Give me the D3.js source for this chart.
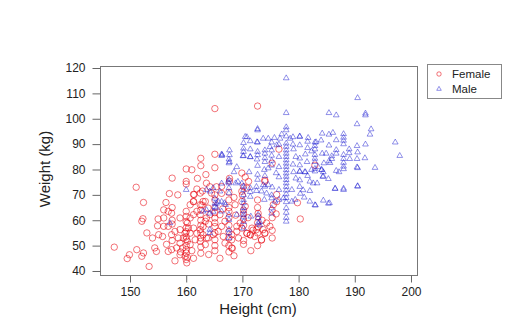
<!DOCTYPE html>
<html>
<head>
<meta charset="utf-8">
<script src="https://cdn.jsdelivr.net/npm/d3@7"></script>
<style>
  body { margin: 0; background: #fff; }
  svg { display: block; }
  text { font-family: "Liberation Sans", Arial, sans-serif; fill: #222; }
</style>
</head>
<body>
<svg id="chart" width="514" height="336"></svg>
<script>
// Axis ticks and series names
const xTicks = [150, 160, 170, 180, 190, 200];
const yTicks = [40, 50, 60, 70, 80, 90, 100, 110, 120];
const seriesNames = ["Female", "Male"];

// [height (cm), weight (kg)]
const female = [
  [165.1,104],[172.7,105],[165.1,86],[165.1,80.7],[162.6,84.4],[162.6,81.5],[160,80.2],[161,79.9],
  [157.5,76.6],[151.1,73],[160,75.3],[160,74.3],[182.9,81.7],[176.5,88],[175.3,82.5],
  [179.8,66.9],[180.3,60.5],[168.2,48.9],[174,75.8],
  [152.4,67],[152.3,60.6],[152.1,59.6],[156.4,67],[156,64.1],[156.8,63.5],[157.4,62.8],
  [154.9,57.8],[156,57.6],[155.1,54.3],[155.8,53.6],[157.4,54.3],
  [147.2,49.4],[149.9,46.4],[149.5,44.9],[151.2,48.4],[152.1,45.8],[152.4,47.1],[154.4,49.1],[154.7,47.7],
  [153.4,41.8],[156.8,47.7],[157.4,48.4],[158.3,49.1],[158.9,46.4],[159.8,45.8],[160.1,43.2],
  [161.4,70.1],[162.5,70.7],[163,67.4],[162.5,66.1],[161.9,63.5],[161.3,62.2],[162.5,62.2],[163.6,60.9],
  [160.2,58.9],[160.4,56.9],[159.8,54.9],[160.7,54.9],[159.5,53],[160.2,51.7],[160.7,50.4],[159.4,49.1],[160,48.4],
  [158.9,51],[158.6,53],[161.3,56.9],[161.9,54.9],[162.5,56.3],[163,54.3],[163.6,53],[162.5,51.7],[161.6,52.3],
  [158.9,56.3],[158,55.6],[156.8,57.6],[160,47.1],[160.2,45.4],[156,60.9],[158.9,60.9],[160,63.5],[160.7,60.9],
  [161.3,67.4],[160.7,66.1],
  [163.4,67.4],[163.9,64.8],[164.2,62.2],[163.4,59.6],[165.1,60.9],[166,62.2],[166.9,59.6],[166.3,57.6],[165.7,55.6],
  [164.8,54.3],[163.9,53],[163.4,50.4],[165.1,52.3],[166.6,53.6],[168.1,54.3],[169,55.6],[169.9,56.9],[170.8,54.9],
  [169.3,53],[168.1,52.3],[166.9,51],[169.6,58.9],[171.7,56.9],[172.5,56.3],[171.4,54.3],[172.2,53.6],[173.7,56.3],
  [174,55],[173.4,52.3],[174.9,57.6],[174.3,58.9],[168.1,49.1],[169,57.6],[170.5,65.5],[169.9,67.4],[168.7,66.1],
  [169.9,71.4],[170.8,72.7],[171.1,75.3],[169.9,78.6],[174,75.3],[166.3,73.3],[164.5,70.7],[163.6,74.6],[176.1,70.1],
  [175.5,66.1],
  [161.3,70.2],[161.9,72.3],[162.9,71.5],[164.2,73.2],[165.4,73.2],[166.3,70.6],[161.3,67.3],[162.8,66],
  [167.7,76.5],[167.7,75.4],[170.2,73.2],[170,69.9],[172.8,62.7],[172.8,61.4],[176.1,67.3],[173.4,52.2],
  [174,54.8],[172.8,57.4],[171.9,56.1],[171.4,54.2],[170.8,54.8],
  [160,50],[160,52.5],[160,55.5],[160,57],[160,59.5],[160,61.5],[160,44.5],[160,53.5],[159,47.5],[161,48],
  [161.3,45],[162.6,47],[162.6,49.5],[162.6,53],[162.6,55],[162.6,58],[162.6,60],[162.6,64],[165.1,48],[165.1,50],
  [165.1,55],[165.1,57.5],[165.1,59],[165.1,63],[165.1,65],[165.1,68],[165.1,70],[167.6,47.5],[167.6,50],[167.6,53],
  [167.6,55.5],[167.6,58],[167.6,61],[167.6,63.5],[167.6,65],[167.6,68],[167.6,71],[170.2,50.5],[170.2,52],[170.2,58],
  [170.2,60.5],[170.2,62.5],[170.2,64],[172.7,50],[172.7,55],[172.7,59],[172.7,65],[172.7,68],[175.3,53],[175.3,56],
  [175.3,61],[175.3,64],[168.5,46],[171.5,48],[164,46.5],[166,45],[157.5,58.5],[157.5,60],[157.5,65],[157.5,52],
  [155,60.5],[153,55],[154,53],[156.5,50.5],[158,44],[163,57.5],[164,58.5],[166.5,64.5],[168.8,62],[171,61],
  [173.5,60],[176,62.5],[162,76.5],[163.5,78],[158.5,70],[157,70.5],[168.5,69],[170.5,77]
];

const male = [
  [177.8,116],[190.5,108.2],[191.9,102.1],[191.9,101.4],[185.4,102.3],[186.7,101.4],[177.8,102.3],[190.4,97.9],
  [192.9,95.9],[192.7,93.8],[184.2,94.2],[185.4,93.8],[188,94],[188,92.6],[188,91.4],[188,90],[186.7,91.6],
  [190.4,89.3],[191.9,89.9],[197.2,90.7],[198,85.4],[193.6,80.7],[190.4,84.2],[190.4,80.9],[188,85.8],[188,84.2],
  [188,82.7],[188,81.2],[189.1,84.2],[186.7,87.7],[186.7,86.3],[185.4,83.3],[184.2,86.3],[184.9,86.3],[182.9,90.7],
  [182.9,89.3],[182.9,88],[182.9,85.8],[182.9,84.3],[182.9,83],[182.9,80.3],[184.1,79.8],[184.3,77.2],[183.1,90.8],
  [182.3,87.2],[185.9,85.3],[185.9,84.2],[185.6,82.6],
  [172.7,96],[177.8,96.7],[170.8,92.8],[171.4,91.2],[172.6,90.8],[177,93.9],[177.8,93.1],[179,92.8],[180.2,93.1],
  [166.4,85.7],[167.6,84],[167.6,82.5],[170.1,85.3],[171.4,84.9],[172.6,84],
  [172.7,95.5],[177.8,95.5],[170.5,92.9],[173.7,92.2],[174.6,92.2],[175.7,92.5],[176.7,92.2],[178.5,92.2],[181.7,92.5],
  [170.2,88.3],[167.7,87.6],[166.3,85.4],[167.7,83],[171.4,85],[174,87.6],[174.9,88.9],[176.1,89.6],
  [177.8,90.3],[177.8,89],[177.8,87.6],[177.8,86.3],[177.8,85],[177.8,83.7],[177.8,82.4],[177.8,81.1],[177.8,79.8],
  [177.8,78.5],[177.8,77.2],[177.8,75.9],[177.8,74.6],[177.8,73.2],[177.8,71.8],[177.8,70.3],[177.8,68.8],[177.8,67.2],
  [177.8,64.8],[177.8,63],[177.8,61],[177.8,59.5],
  [180.2,92.9],[180.2,89.6],[180.2,84.4],[180.2,81.7],[180.2,79.1],[180.2,75.8],[181.2,86],[181.5,83],[181.2,79],
  [181.6,77.5],[179,89.9],[176.5,89.9],[175.2,90.7],[175.2,87.6],[175.2,85.5],[175.2,83.5],[175.2,81.6],[174,86.3],
  [174,84.5],[174,83],[172.7,90.7],[172.7,87],[172.7,85.7],[170.2,90.5],[170.2,87],[170.2,85.4],[167.7,85.7],[166.3,86],
  [184.1,79.9],[184.4,79],[184.4,77.3],[185.3,76.3],[187.2,79],[188,80.2],[190.5,80.6],[182.9,79.3],[182,75.3],
  [182.6,74.6],[183.3,74.6],[186.5,72.4],[188,72],[190.5,73.3],[182,71.6],[182,67.4],[184.4,67.8],[185.5,66.8],[183,65.9],
  [171.2,79],[173.9,79.9],[176,78.6],[179.1,79],[180.2,79.3],[181.1,79],[182.3,79.9],[167.6,76],[167.6,74.6],
  [167.6,72.7],[167.6,70.7],[168.8,74.6],[169.2,75.2],[170.2,73.3],[170.2,72],[170.2,70],[170.2,68],[170.2,66.8],
  [171.4,72.7],[172.5,71.6],[173.4,71.4],[174,73.3],[174.6,74],[173.9,68.1],[175.2,68.7],[175.8,67.4],[176.5,68.1],
  [177.3,68.7],[178.8,67.4],[179.4,68.1],[175.2,64.8],[172.8,62.2],[172.8,60.9],[172.8,58.9],[171.5,61.5],[170.2,64.9],
  [170.2,63.6],[170.2,62.2],[170.2,61.2],[167.6,62.2],[167.6,60.2],[167.6,56.3],[167.6,55],[167.6,53],[169,62.2],
  [164.2,56.3],[164.2,55],[166.3,63.5],[165.4,64.8],[165.7,67.4],[166.8,66.8],[167,66.1],[164.2,71.4],[164.8,72.7],[166,71.4],
  [166.3,74.5],[167.5,75.2],[165.1,66.6],[165.1,65.3],[164.8,63.4],[169.9,74.5],[170.2,59.4],[170.2,56.8],[171.4,71.2],
  [171.4,69.3],[172.5,73.2],[173.7,73.9],[174.3,70.6],[175.2,69.9],[175.2,62.7],[173.1,59.4],[173.1,58.1],[180.2,73.2],
  [180.8,71.9],[182.9,66],[185.3,66.6],[186.5,72.5],[188,72.5],[190.5,73.5],
  [160,72],[165.4,66.6],[164.2,62.7],[166.3,67.3],[165.1,68.6],[157.1,58.9],[163.6,72],[163,63.5],[163.6,64.1],
  [179.1,88],[179.5,85],[179,82],[179.5,76.5],[176.5,85],[176.5,81],[176.5,77],[174.6,80.5],[174,77.5],[172.7,81.5],
  [172.7,78],[172.7,76],[171.4,88],[169,81],[168.5,79],[175.3,73],[176.5,72],[178.8,72],[181,69],[180.3,70.5],
  [183.5,81],[184.5,82.5],[186.7,79.5],[185.4,89.5],[184,91.5],[181.6,91],[181.6,88.5],[186.1,94.5],[189,88],
  [189,86.5],[191.8,84.5],[190.5,86.8]
];

const svg = d3.select("#chart");
const plot = { left: 100, right: 417, top: 66, bottom: 275 };

const x = d3.scaleLinear().domain([144.66, 201.07]).range([plot.left, plot.right]);
const y = d3.scaleLinear().domain([38.42, 120.79]).range([plot.bottom, plot.top]);

const femaleColor = "#e8000b";
const maleColor = "#1a1ad0";
const tri = d3.symbol().type(d3.symbolTriangle).size(14);

// Points
svg.append("g").selectAll("circle").data(female).join("circle")
  .attr("cx", d => x(d[0])).attr("cy", d => y(d[1])).attr("r", 3.2)
  .attr("fill", "none").attr("stroke", femaleColor).attr("stroke-opacity", 0.65).attr("stroke-width", 0.85);

svg.append("g").selectAll("path").data(male).join("path")
  .attr("d", tri)
  .attr("transform", d => `translate(${x(d[0])},${y(d[1])})`)
  .attr("fill", "none").attr("stroke", maleColor).attr("stroke-opacity", 0.6).attr("stroke-width", 0.8);

// Box
svg.append("rect")
  .attr("x", plot.left + 0.5).attr("y", plot.top + 0.5)
  .attr("width", plot.right - plot.left).attr("height", plot.bottom - plot.top)
  .attr("fill", "none").attr("stroke", "#777").attr("stroke-width", 1);

// Axes
const xAxis = svg.append("g").attr("transform", `translate(0,${plot.bottom + 0.5})`)
  .call(d3.axisBottom(x).tickValues(xTicks).tickSize(7).tickPadding(5).tickFormat(d3.format("d")));
const yAxis = svg.append("g").attr("transform", `translate(${plot.left + 0.5},0)`)
  .call(d3.axisLeft(y).tickValues(yTicks).tickSize(8).tickPadding(7).tickFormat(d3.format("d")));
[xAxis, yAxis].forEach(g => {
  g.select(".domain").remove();
  g.selectAll(".tick line").attr("stroke", "#666");
  g.selectAll(".tick text").attr("font-size", 12).attr("fill", "#222")
    .attr("font-family", "'Liberation Sans', Arial, sans-serif");
});

// Axis titles
svg.append("text").attr("x", 258).attr("y", 314).attr("text-anchor", "middle")
  .attr("font-size", 15).text("Height (cm)");
svg.append("text").attr("transform", "translate(50,169) rotate(-90)").attr("text-anchor", "middle")
  .attr("font-size", 15).text("Weight (kg)");

// Legend
const legend = svg.append("g");
legend.append("rect").attr("x", 427.5).attr("y", 64.5).attr("width", 74).attr("height", 34)
  .attr("fill", "#fff").attr("stroke", "#888");
legend.append("circle").attr("cx", 439).attr("cy", 74).attr("r", 2.2)
  .attr("fill", "none").attr("stroke", femaleColor).attr("stroke-opacity", 0.65).attr("stroke-width", 0.85);
legend.append("path").attr("d", d3.symbol().type(d3.symbolTriangle).size(9))
  .attr("transform", "translate(439,89)")
  .attr("fill", "none").attr("stroke", maleColor).attr("stroke-opacity", 0.6).attr("stroke-width", 0.8);
legend.selectAll("text.lab").data(seriesNames).join("text").attr("class", "lab")
  .attr("x", 452).attr("y", (d, i) => 74 + i * 14.5).attr("dy", "0.35em")
  .attr("font-size", 11.5).text(d => d);
</script>
</body>
</html>
